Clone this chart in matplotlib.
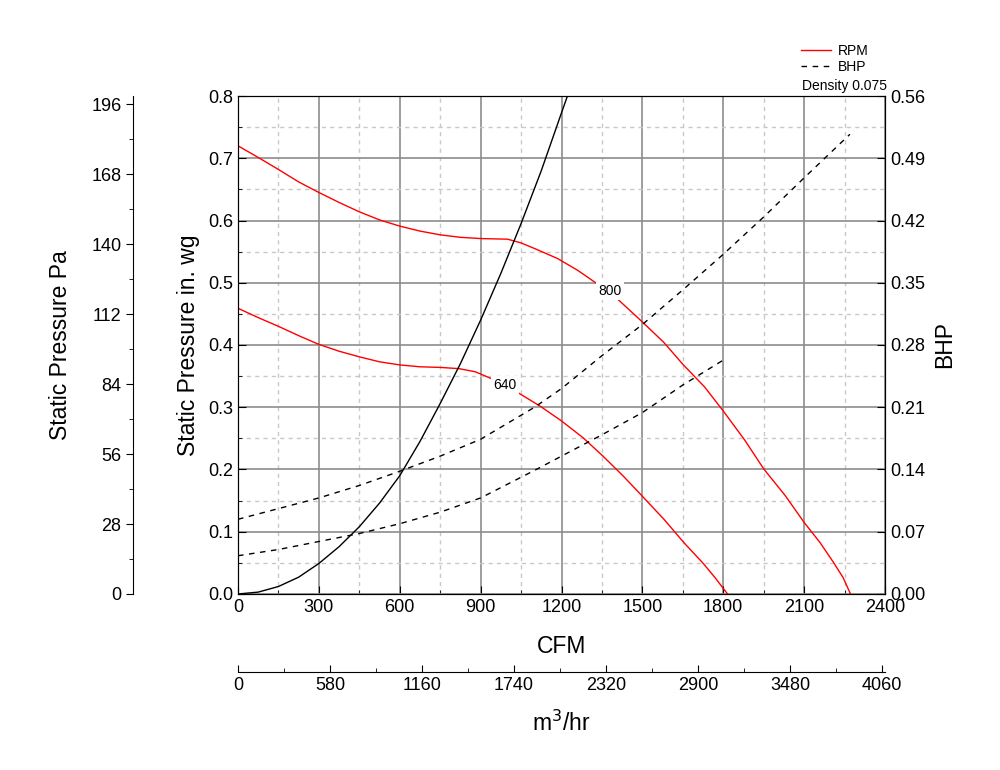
import matplotlib
matplotlib.use('Agg')
from matplotlib import pyplot as plt
from matplotlib.ticker import MultipleLocator

plt.rcParams['font.family'] = ['Liberation Sans', 'DejaVu Sans']

# fan curves, static pressure (in. wg) vs CFM
cfm_800 = [0, 80, 150, 225, 300, 375, 450, 525, 600, 675, 750, 825, 900, 1000, 1050, 1100,
           1185, 1260, 1330, 1410, 1500, 1580, 1650, 1730, 1800, 1880, 1950, 2030, 2100, 2160, 2210, 2245, 2272]
sp_800 = [0.72, 0.70, 0.682, 0.662, 0.645, 0.629, 0.614, 0.601, 0.591, 0.583, 0.577, 0.573, 0.571, 0.57, 0.564, 0.555,
          0.539, 0.52, 0.499, 0.473, 0.437, 0.404, 0.369, 0.333, 0.294, 0.247, 0.201, 0.158, 0.115, 0.082, 0.05, 0.026, 0.0]

cfm_640 = [0, 75, 150, 225, 300, 375, 450, 525, 600, 675, 750, 820, 880, 940, 1040, 1120, 1200,
           1280, 1355, 1430, 1500, 1580, 1655, 1726, 1770, 1816]
sp_640 = [0.459, 0.444, 0.43, 0.415, 0.401, 0.39, 0.381, 0.373, 0.368, 0.365, 0.364, 0.362, 0.357, 0.346, 0.323, 0.302, 0.278,
          0.251, 0.221, 0.189, 0.157, 0.12, 0.082, 0.049, 0.026, 0.0]

# system curve
cfm_sys = [0, 75, 150, 225, 300, 375, 450, 525, 600, 675, 750, 825, 900, 975, 1050, 1125, 1200, 1222]
sp_sys = [0.0, 0.003, 0.012, 0.027, 0.049, 0.076, 0.108, 0.146, 0.19, 0.245, 0.306, 0.37, 0.44, 0.515, 0.595, 0.68, 0.773, 0.8]

# brake horsepower curves
cfm_bhp_800 = [0, 150, 300, 450, 600, 750, 900, 1100, 1200, 1350, 1500, 1650, 1800, 1950, 2100, 2270]
bhp_800 = [0.084, 0.096, 0.108, 0.122, 0.138, 0.155, 0.174, 0.21, 0.231, 0.268, 0.303, 0.342, 0.382, 0.424, 0.468, 0.517]
cfm_bhp_640 = [0, 150, 300, 450, 600, 750, 900, 1100, 1200, 1350, 1500, 1650, 1800]
bhp_640 = [0.043, 0.050, 0.059, 0.068, 0.079, 0.092, 0.108, 0.139, 0.155, 0.179, 0.204, 0.235, 0.263]

rpm_labels = [('800', 1380, 0.487), ('640', 990, 0.336)]

fig = plt.figure(figsize=(10, 7.7), dpi=100)
ax = fig.add_axes([0.238, 0.2286, 0.647, 0.6467])

ax.plot(cfm_800, sp_800, color='red', lw=1)
ax.plot(cfm_640, sp_640, color='red', lw=1)
ax.plot(cfm_sys, sp_sys, color='black', lw=1)
for txt, x, y in rpm_labels:
    ax.text(x, y, txt, fontsize=10, ha='center', va='center',
            bbox=dict(facecolor='white', edgecolor='none', pad=1.5), zorder=5)

ax.set_xlim(0, 2400)
ax.set_ylim(0, 0.8)
ax.xaxis.set_major_locator(MultipleLocator(300))
ax.xaxis.set_minor_locator(MultipleLocator(150))
ax.yaxis.set_major_locator(MultipleLocator(0.1))
ax.yaxis.set_minor_locator(MultipleLocator(0.05))
ax.yaxis.set_major_formatter(lambda v, p: f'{v:.1f}')
ax.grid(which='major', color='#8c8c8c', lw=1.2)
ax.grid(which='minor', color='#c8c8c8', lw=1, ls=(0, (3, 3)))
ax.set_axisbelow(True)
ax.tick_params(which='both', direction='in', labelsize=13, top=False)
ax.tick_params(which='major', length=6)
ax.tick_params(which='minor', length=3)
ax.set_xlabel('CFM', fontsize=16.5, labelpad=14)
ax.set_ylabel('Static Pressure in. wg', fontsize=16.5, labelpad=6)

# BHP axis on the right
ax2 = ax.twinx()
ax2.plot(cfm_bhp_800, bhp_800, color='black', lw=1, ls=(0, (4, 4)))
ax2.plot(cfm_bhp_640, bhp_640, color='black', lw=1, ls=(0, (4, 4)))
ax2.set_ylim(0, 0.56)
ax2.yaxis.set_major_locator(MultipleLocator(0.07))
ax2.yaxis.set_major_formatter(lambda v, p: f'{v:.2f}')
ax2.tick_params(direction='in', labelsize=13, length=6)
ax2.set_ylabel('BHP', fontsize=16.5, labelpad=6)

# Pa axis on the far left (0.8 in. wg = 199.3 Pa)
ax3 = ax.twinx()
ax3.spines['left'].set_position(('axes', -0.162))
ax3.spines['left'].set_visible(True)
for s in ['right', 'top', 'bottom']:
    ax3.spines[s].set_visible(False)
ax3.yaxis.set_label_position('left')
ax3.yaxis.set_ticks_position('left')
ax3.set_ylim(0, 199.3)
ax3.yaxis.set_major_locator(MultipleLocator(28))
ax3.yaxis.set_minor_locator(MultipleLocator(14))
ax3.tick_params(which='both', direction='out', labelsize=13)
ax3.tick_params(which='major', length=5)
ax3.tick_params(which='minor', length=3)
ax3.set_ylabel('Static Pressure Pa', fontsize=16.5, labelpad=14)

# m3/hr axis below (2400 CFM = 4077.6 m3/hr)
ax4 = ax.twiny()
ax4.spines['bottom'].set_position(('axes', -0.157))
ax4.spines['bottom'].set_visible(True)
for s in ['right', 'top', 'left']:
    ax4.spines[s].set_visible(False)
ax4.xaxis.set_label_position('bottom')
ax4.xaxis.set_ticks_position('bottom')
ax4.set_xlim(0, 4077.6)
ax4.xaxis.set_major_locator(MultipleLocator(580))
ax4.xaxis.set_minor_locator(MultipleLocator(290))
ax4.tick_params(which='both', direction='in', labelsize=13)
ax4.tick_params(which='major', length=5)
ax4.tick_params(which='minor', length=3)
ax4.set_xlabel('m$^3$/hr', fontsize=16.5, labelpad=12)

# legend above the plot
fig.legend(handles=[plt.Line2D([], [], color='red', lw=1, label='RPM'),
                    plt.Line2D([], [], color='black', lw=1, ls=(0, (4, 4)), label='BHP')],
           loc='upper right', bbox_to_anchor=(0.876, 0.952), frameon=False,
           fontsize=10, handlelength=2.2, labelspacing=0.15, borderpad=0, handletextpad=0.5)
fig.text(0.802, 0.888, 'Density 0.075', fontsize=10, ha='left', va='center')

fig.savefig('out.png', dpi=100)
